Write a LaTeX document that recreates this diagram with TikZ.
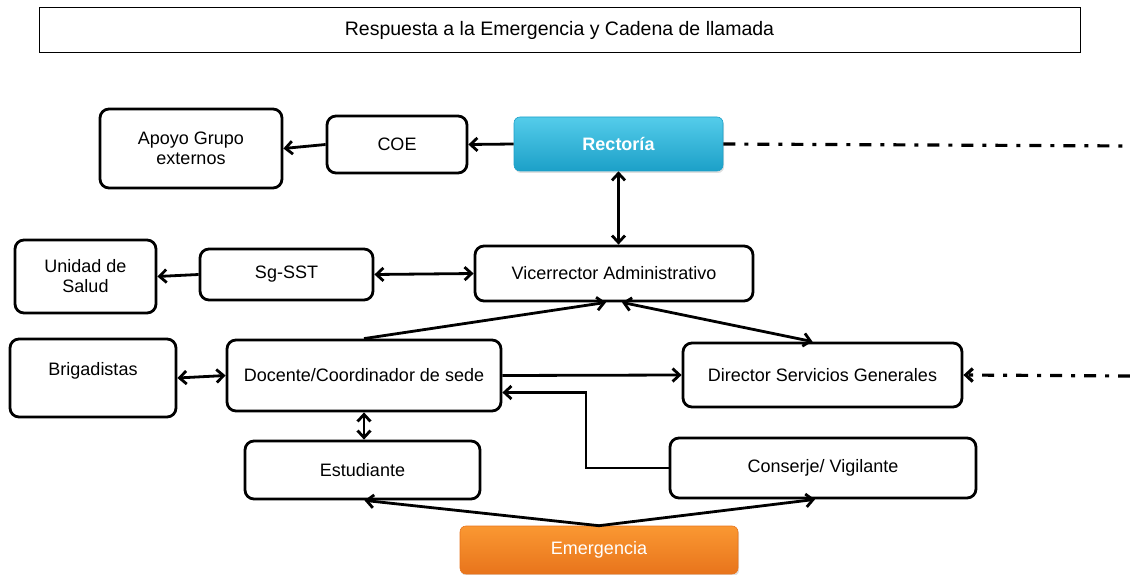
\documentclass[tikz,border=0pt]{standalone}
\usepackage{fontspec}
\setmainfont{Liberation Sans}
\usetikzlibrary{arrows.meta,shadows}
\definecolor{cianclaro}{RGB}{84,204,234}
\definecolor{cianoscuro}{RGB}{28,160,200}
\definecolor{naranjaclaro}{RGB}{250,152,50}
\definecolor{naranjaoscuro}{RGB}{232,116,28}
\begin{document}
\begin{tikzpicture}[x=1pt, y=-1pt, line cap=butt, line join=miter, >={Straight Barb[length=7pt,width=13pt]},
	caja/.style={draw, rounded corners=9pt, line width=2.8pt, align=center, inner sep=2pt, font=\fontsize{18}{20}\selectfont},
	relleno/.style={rounded corners=6pt, align=center, text=white, font=\fontsize{18}{20}\selectfont, drop shadow={opacity=0.25, shadow xshift=1pt, shadow yshift=-2pt}},
	flecha/.style={line width=2.8pt},
	trazo/.style={line width=3.2pt, dash pattern=on 12pt off 9pt on 4pt off 9pt}]
	\useasboundingbox (0,0) rectangle (1130,575);
	\node[draw, line width=1pt, minimum width=1041pt, minimum height=45pt, font=\fontsize{19.5}{22}\selectfont] (titulo) at (559.5,30.5) {Respuesta a la Emergencia y Cadena de llamada};
	\node[caja, minimum width=182pt, minimum height=79pt] (apoyo) at (191,148.5) {Apoyo Grupo\\externos};
	\node[caja, minimum width=140pt, minimum height=57pt] (coe) at (397,144.5) {COE};
	\node[relleno, draw=cianoscuro, line width=0.6pt, top color=cianclaro, bottom color=cianoscuro, minimum width=209pt, minimum height=54pt, font=\fontsize{18}{20}\selectfont\bfseries] (rectoria) at (618.5,144) {Rector\'ia};
	\node[caja, minimum width=278pt, minimum height=55pt] (vice) at (614,273.5) {Vicerrector Administrativo};
	\node[caja, minimum width=141pt, minimum height=73pt] (unidad) at (85.5,276.5) {Unidad de\\Salud};
	\node[caja, minimum width=173pt, minimum height=51pt] (sgsst) at (286.5,274.5) {Sg-SST};
	\node[caja, minimum width=166pt, minimum height=78pt, text depth=18pt] (brigada) at (93,378) {Brigadistas};
	\node[caja, minimum width=274pt, minimum height=71pt] (docente) at (364,375.5) {Docente/Coordinador de sede};
	\node[caja, minimum width=279pt, minimum height=64pt] (director) at (822.5,375) {Director Servicios Generales};
	\node[caja, minimum width=235pt, minimum height=58pt] (estudiante) at (362.5,470) {Estudiante};
	\node[caja, minimum width=306pt, minimum height=60pt] (conserje) at (823,468) {Conserje/ Vigilante};
	\node[relleno, draw=naranjaoscuro, line width=0.6pt, top color=naranjaclaro, bottom color=naranjaoscuro, minimum width=278pt, minimum height=48pt] (emergencia) at (599,550) {Emergencia};
	\coordinate (bordeA) at (1130,146);
	\coordinate (bordeB) at (1130,376);
	\coordinate (codo) at (586,468);
	\draw[trazo] (rectoria.east) -- (bordeA);
	\draw[trazo, ->] (bordeB) -- (director.east);
	\draw[flecha, ->] (rectoria.west) -- (coe.east);
	\draw[flecha, ->] (coe.west) -- (apoyo.east);
	\draw[flecha, <->] (rectoria.south) -- (rectoria.south |- vice.north);
	\draw[flecha, <->] (sgsst.east) -- (vice.west);
	\draw[flecha, ->] (sgsst.west) -- (unidad.east);
	\draw[flecha, <->] (brigada.east) -- (docente.west);
	\draw[flecha, ->] (docente.north) -- ([xshift=-8pt]vice.south);
	\draw[flecha, <->] ([xshift=8pt]vice.south) -- ([xshift=-10pt]director.north);
	\draw[flecha, ->] (docente.east) -- (director.west);
	\draw[flecha, <->] (docente.south) -- (estudiante.north -| docente.south);
	\draw[flecha, ->] (conserje.west) -- (codo) |- ([yshift=-17pt]docente.east);
	\draw[flecha, ->] (emergencia.north) -- ([xshift=2pt]estudiante.south);
	\draw[flecha, ->] (emergencia.north) -- ([xshift=-8pt]conserje.south);
\end{tikzpicture}
\end{document}
